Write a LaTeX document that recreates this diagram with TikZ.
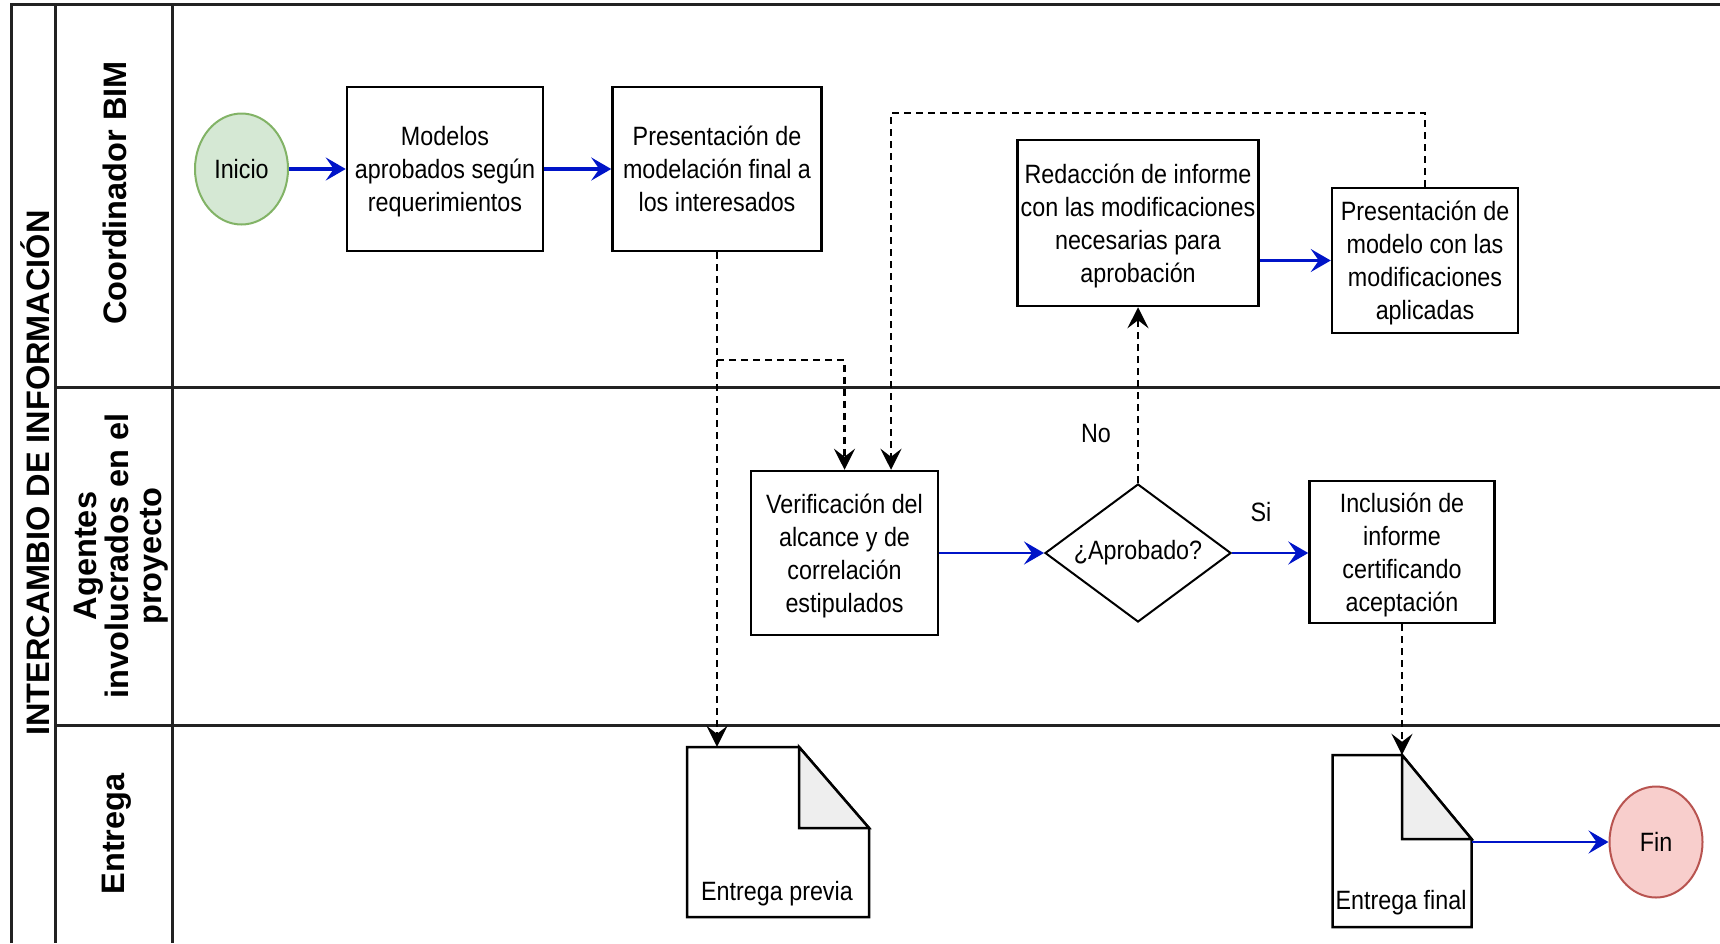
\documentclass[tikz,border=0pt]{standalone}
\usepackage{fontspec}
\setmainfont{Liberation Sans}
\newfontfamily\narrowfont[FakeStretch=0.88]{Liberation Sans}
\usetikzlibrary{arrows.meta,shapes.geometric}
\definecolor{flowblue}{RGB}{0,20,200}
\definecolor{startfill}{HTML}{D5E8D4}
\definecolor{startline}{HTML}{82B366}
\definecolor{endfill}{HTML}{F8CECC}
\definecolor{endline}{HTML}{B85450}
\definecolor{foldgray}{HTML}{EEEEEE}
\definecolor{laneline}{HTML}{222222}

% multi-line label set on fixed row pitch, lowered slightly inside its box
\newcommand{\boxlines}[1]{\raisebox{-3pt}[\height][\depth]{%
  \begin{tabular}{@{}c@{}}#1\end{tabular}}}

\tikzset{
  boxtext/.style={font=\narrowfont\fontsize{26.5}{33}\selectfont, align=center},
  stepbox/.style={boxtext, draw=black, line width=2.5pt, fill=white, inner sep=0pt},
  terminal/.style={boxtext, ellipse, line width=2pt, inner sep=0pt,
    minimum width=93, minimum height=111},
  decision/.style={boxtext, diamond, draw=black, line width=2pt, fill=white,
    inner sep=0pt, aspect=1.35, minimum width=186, minimum height=138},
  docframe/.style={draw=none, inner sep=0pt},
  lanetext/.style={font=\bfseries\fontsize{32.5}{32.5}\selectfont, align=center, rotate=90},
  lanerule/.style={draw=laneline, line width=3pt},
  flowhead/.style={-{Stealth[length=20pt,width=23pt,inset=8pt]}},
  flow/.style={draw=flowblue, line width=2.5pt, flowhead},
  boldflow/.style={flow, line width=3.2pt},
  dflow/.style={draw=black, line width=2.2pt, dash pattern=on 7pt off 5pt,
    -{Stealth[length=21pt,width=21pt,inset=8pt]}},
  docsheet/.style={draw=black, line width=2.5pt, fill=white, line join=miter},
  docfold/.style={draw=black, line width=2.5pt, fill=foldgray},
}

\begin{document}
\begin{tikzpicture}[x=1pt,y=-1pt]
\useasboundingbox (0,0) rectangle (1720,943);

% pool and lanes
\draw[lanerule] (11,943) -- (11,4) -- (1720,4);
\draw[lanerule] (55,4) -- (55,943);
\draw[lanerule] (172,4) -- (172,943);
\draw[lanerule] (55,387) -- (1720,387);
\draw[lanerule] (55,725) -- (1720,725);

\node[lanetext] (pool) at (35,473) {INTERCAMBIO DE INFORMACIÓN};
\node[lanetext] (laneA) at (115,193) {Coordinador BIM};
\node[lanetext] (laneB) at (121,556) {Agentes\\involucrados en el\\proyecto};
\node[lanetext] (laneC) at (117,834) {Entrega};

% process nodes
\node[terminal, fill=startfill, draw=startline] (inicio) at (241.5,169) {Inicio};
\node[stepbox, minimum width=196, minimum height=164] (modelos) at (445,169)
  {\boxlines{Modelos\\aprobados según\\requerimientos}};
\node[stepbox, minimum width=209, minimum height=164] (presfinal) at (717,169)
  {\boxlines{Presentación de\\modelación final a\\los interesados}};
\node[stepbox, minimum width=241, minimum height=166] (redaccion) at (1138,223)
  {\boxlines{Redacción de informe\\con las modificaciones\\necesarias para\\aprobación}};
\node[stepbox, minimum width=186, minimum height=145] (presmod) at (1425,260.5)
  {\boxlines{Presentación de\\modelo con las\\modificaciones\\aplicadas}};
\node[stepbox, minimum width=187, minimum height=164] (verif) at (844.5,553)
  {\boxlines{Verificación del\\alcance y de\\correlación\\estipulados}};
\node[decision] (aprob) at (1138,553) {¿Aprobado?};
\node[stepbox, minimum width=185, minimum height=142] (inclusion) at (1402,552)
  {\boxlines{Inclusión de\\informe\\certificando\\aceptación}};
\node[terminal, fill=endfill, draw=endline] (fin) at (1656,842) {Fin};

% documents
\node[docframe, minimum width=182, minimum height=170] (previa) at (778,832) {};
\draw[docsheet] (687,747) -- (799,747) -- (869,828) -- (869,917) -- (687,917) -- cycle;
\draw[docfold] (799,747) -- (869,828) -- (799,828) -- cycle;
\node[boxtext] (previaText) at (777,894) {Entrega previa};

\node[docframe, minimum width=139, minimum height=172] (docfinal) at (1402,841) {};
\draw[docsheet] (1332.5,755) -- (1402,755) -- (1471.5,839) -- (1471.5,927) -- (1332.5,927) -- cycle;
\draw[docfold] (1402,755) -- (1471.5,839) -- (1402,839) -- cycle;
\node[boxtext] (finalText) at (1401,903) {Entrega final};

% branch labels
\node[boxtext] (noLabel) at (1096,434) {No};
\node[boxtext] (siLabel) at (1261,512) {Si};

% connectors
\coordinate (jogA) at (844.5,360);
\coordinate (jogB) at (891,113);

\draw[boldflow] (inicio.east) -- (modelos.west);
\draw[boldflow] (modelos.east) -- (presfinal.west);
\draw[dflow] (presfinal.south) -- (presfinal.south |- previa.north);
\draw[dflow] (presfinal.south) |- (jogA) -- (verif.north);
\draw[dflow] (presmod.north) |- (jogB) -- (jogB |- verif.north);
\draw[flow] (verif.east) -- (aprob.west);
\draw[dflow] (aprob.north) -- (redaccion.south);
\draw[flow] (aprob.east) -- (aprob.east -| inclusion.west);
\draw[flow] (redaccion.east |- presmod.west) -- (presmod.west);
\draw[dflow] (inclusion.south) -- (docfinal.north);
\draw[flow] (docfinal.east |- fin.west) -- (fin.west);
\end{tikzpicture}
\end{document}
